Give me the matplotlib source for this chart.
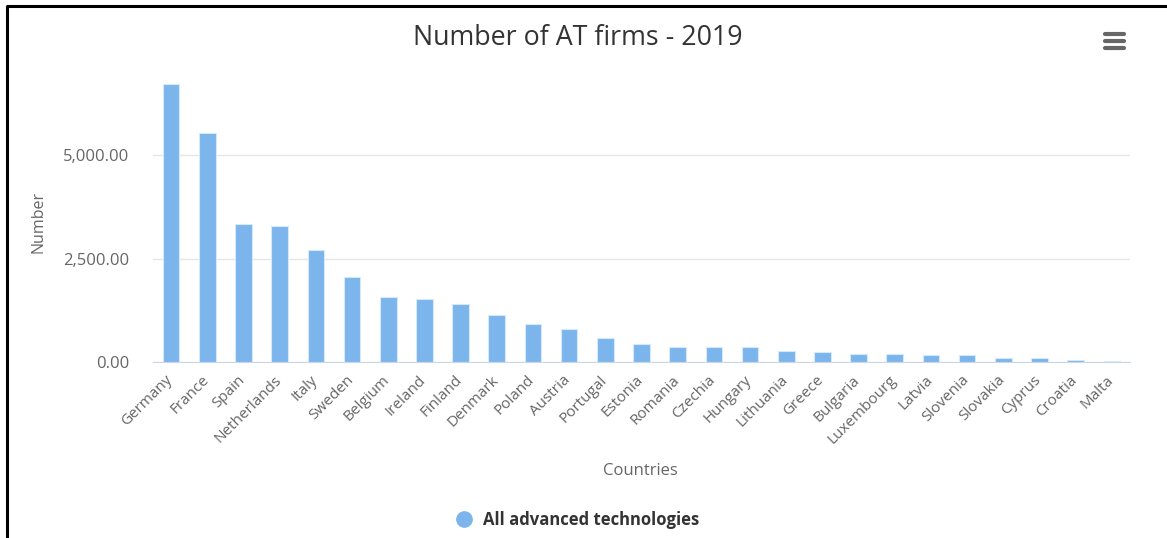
import matplotlib
matplotlib.use("Agg")
import matplotlib.pyplot as plt
import matplotlib.transforms as mtransforms
from matplotlib.lines import Line2D

plt.rcParams["font.family"] = ["Open Sans", "DejaVu Sans"]

# data
countries = ["Germany", "France", "Spain", "Netherlands", "Italy", "Sweden",
             "Belgium", "Ireland", "Finland", "Denmark", "Poland", "Austria",
             "Portugal", "Estonia", "Romania", "Czechia", "Hungary", "Lithuania",
             "Greece", "Bulgaria", "Luxembourg", "Latvia", "Slovenia", "Slovakia",
             "Cyprus", "Croatia", "Malta"]
firms = [6715, 5546, 3348, 3285, 2713, 2053, 1585, 1522, 1416, 1140, 934, 805,
         596, 443, 370, 370, 370, 274, 242, 209, 209, 169, 169, 105, 105, 64, 40]
y_ticks = [0, 2500, 5000]
series_name = "All advanced technologies"

W, H = 1167, 538
fig = plt.figure(figsize=(W / 100, H / 100), dpi=100)
fig.patch.set_facecolor("white")

# axes placed in pixel terms
left, right, bottom, top = 153, 1130, 362.3, 52
ax = fig.add_axes([left / W, 1 - bottom / H, (right - left) / W, (bottom - top) / H])

ax.bar(range(len(countries)), firms, width=0.46, color="#7cb5ec",
       edgecolor="#d6e9fb", linewidth=0.8, zorder=3)
ax.set_xlim(-0.5, len(countries) - 0.5)
ax.set_ylim(0, 7500)
ax.set_yticks(y_ticks)
ax.set_yticklabels([f"{v:,.2f}" for v in y_ticks], color="#666666", fontsize=12)
ax.set_xticks(range(len(countries)))
ax.set_xticklabels(countries, rotation=45, ha="right", va="top",
                   rotation_mode="anchor", color="#666666", fontsize=11)
ax.tick_params(axis="y", length=0, pad=17)
ax.tick_params(axis="x", length=0, pad=6)
# nudge the rotated labels a little left / down, like the reference
shift = mtransforms.ScaledTranslation(-6 / 100, -2 / 100, fig.dpi_scale_trans)
for lab in ax.get_xticklabels():
    lab.set_transform(lab.get_transform() + shift)
ax.grid(axis="y", color="#e6e6e6", linewidth=1, zorder=0)
for s in ["top", "right", "left"]:
    ax.spines[s].set_visible(False)
ax.spines["bottom"].set_color("#ccd6eb")
ax.set_facecolor("white")

ax.set_ylabel("Number", color="#666666", fontsize=11.5, va="center")
ax.yaxis.set_label_coords((39 - left) / (right - left), 0.452)
fig.text(640 / W, 1 - 471 / H, "Countries", color="#666666", fontsize=12,
         ha="center", va="center")

fig.text(578 / W, 1 - 38 / H, "Number of AT firms - 2019", color="#333333",
         fontsize=19.3, ha="center", va="center")

# legend
fig.add_artist(Line2D([464 / W], [1 - 519 / H], marker="o", markersize=11,
                      color="#7cb5ec", linestyle="none"))
fig.text(483 / W, 1 - 520 / H, series_name, color="#333333", fontsize=12,
         fontweight="bold", ha="left", va="center")

# menu icon
for yy in [34, 41, 48]:
    fig.add_artist(Line2D([1105 / W, 1124 / W], [1 - yy / H, 1 - yy / H],
                          color="#666666", linewidth=3, solid_capstyle="round"))

# screenshot frame (left and top edges)
fig.add_artist(Line2D([6.5 / W, 6.5 / W, 1], [0, 1 - 5.5 / H, 1 - 5.5 / H],
                      color="black", linewidth=2.2))

fig.savefig("out.png", dpi=100)
